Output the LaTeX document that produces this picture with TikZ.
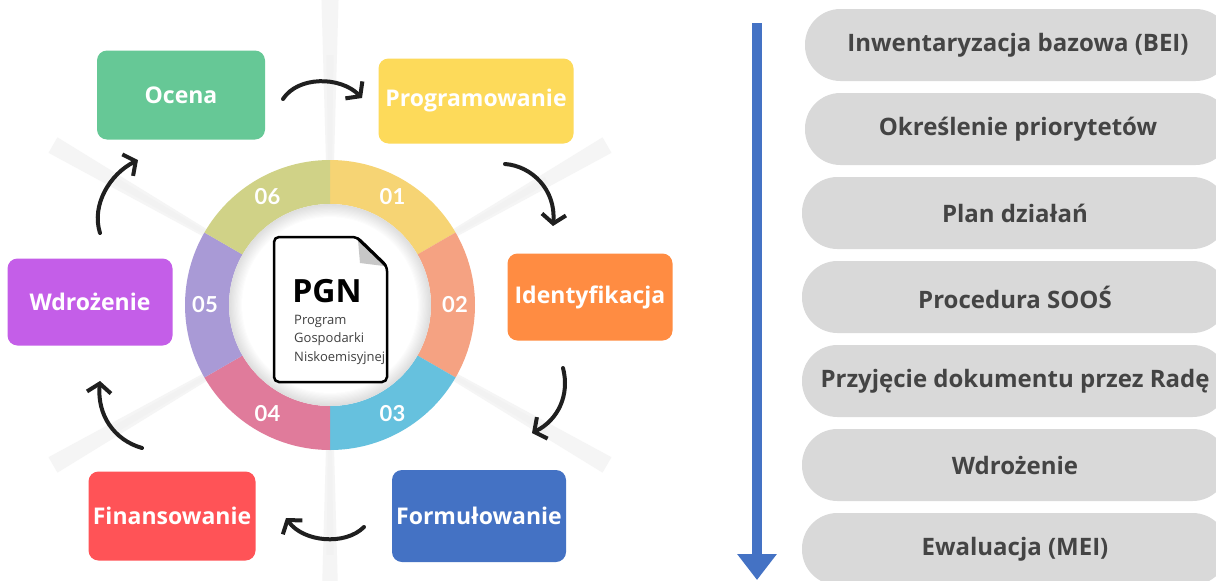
\documentclass[tikz,border=0pt]{standalone}
\usepackage{fontspec}
\setmainfont{Open Sans}
\newfontfamily\latofont{Lato}
\usetikzlibrary{arrows.meta,calc}
\definecolor{cgreen}{HTML}{66C896}
\definecolor{cyellow}{HTML}{FDDA5A}
\definecolor{corange}{HTML}{FF8C42}
\definecolor{cblue}{HTML}{4472C4}
\definecolor{cred}{HTML}{FF5357}
\definecolor{cpurple}{HTML}{C45EE8}
\definecolor{pillgray}{HTML}{D9D9D9}
\definecolor{pilltxt}{HTML}{444444}
\definecolor{rA}{HTML}{F6D474}
\definecolor{rB}{HTML}{F5A282}
\definecolor{rC}{HTML}{66C1DE}
\definecolor{rD}{HTML}{E07B9B}
\definecolor{rE}{HTML}{A99AD6}
\definecolor{rF}{HTML}{D0D287}
\begin{document}
\begin{tikzpicture}[x=1pt,y=-1pt,
  box/.style={rounded corners=10pt, inner sep=0pt, text=white, font=\fontsize{23}{27}\selectfont\bfseries},
  pill/.style={fill=pillgray, rounded corners=35.5pt, minimum width=426pt, minimum height=72pt, inner sep=0pt, text=pilltxt, font=\fontsize{24}{28}\selectfont\bfseries},
  num/.style={text=white, font=\latofont\fontsize{22}{26}\selectfont\bfseries, inner sep=0pt},
  curv/.style={line width=4pt, draw=black!88, line cap=round, -{Straight Barb[length=9pt,width=24pt]}}]
\useasboundingbox (0,0) rectangle (1216,581);
\clip (0,0) rectangle (1216,581);
\fill[white] (0,0) rectangle (1216,581);
\coordinate (C) at (330,305);
% rays
\foreach \a in {-90,-30,30,90,150,210}{
  \pgfmathsetmacro\aa{\a-1.6}\pgfmathsetmacro\ab{\a+1.6}
  \pgfmathsetmacro\ac{\a-0.8}\pgfmathsetmacro\ad{\a+0.8}
  \fill[black!4] (C) -- ($(C)+(\aa:320)$) -- ($(C)+(\ab:320)$) -- cycle;
  \fill[black!5] (C) -- ($(C)+(\ac:250)$) -- ($(C)+(\ad:250)$) -- cycle;
}
% ring
\foreach \s/\e/\c in {-90/-30/rA, -30/30/rB, 30/90/rC, 90/150/rD, 150/210/rE, 210/270/rF}{
  \fill[\c] ($(C)+(\s:145)$) arc[start angle=\s,end angle=\e,radius=145] -- ($(C)+(\e:101)$) arc[start angle=\e,end angle=\s,radius=101] -- cycle;
}
% inner circle with soft edge
\foreach \i in {0,...,10}{
  \pgfmathsetmacro\r{101-\i*1.2}\pgfmathsetmacro\g{13-\i*1.2}
  \fill[black!\g!white] (C) circle (\r);
}
\fill[white] (C) circle (88);
% numbers
\node[num] (n01) at ($(C)+(-60:125)$) {01};
\node[num] (n02) at ($(C)+(0:125)$) {02};
\node[num] (n03) at ($(C)+(60:125)$) {03};
\node[num] (n04) at ($(C)+(120:125)$) {04};
\node[num] (n05) at ($(C)+(180:125)$) {05};
\node[num] (n06) at ($(C)+(240:125)$) {06};
% document icon
\draw[line width=2.5pt, fill=white, rounded corners=5pt] (357,237) -- (274,237) -- (274,382) -- (387,382) -- (387,266) -- cycle;
\fill[black!22] (358,240) -- (360,263) -- (384,266) -- cycle;
\draw[line width=2.5pt, line cap=round] (357,238) -- (386,266);
\node[font=\fontsize{32}{36}\selectfont\bfseries, inner sep=0pt] (pgn) at (327,291) {PGN};
\node[font=\fontsize{13}{18.5}\selectfont, text=black!75, align=left, anchor=north west, inner sep=0pt] (pgnsub) at (294,315) {Program\\Gospodarki\\Niskoemisyjnej};
% boxes
\node[box, fill=cgreen, minimum width=168pt, minimum height=89pt] (ocena) at (181,95) {Ocena};
\node[box, fill=cyellow, minimum width=195pt, minimum height=85pt] (prog) at (476,101) {Programowanie};
\node[box, fill=corange, minimum width=165pt, minimum height=87pt] (ident) at (590,297) {Identyfikacja};
\node[box, fill=cblue, minimum width=174pt, minimum height=92pt] (form) at (479,516) {Formułowanie};
\node[box, fill=cred, minimum width=167pt, minimum height=89pt] (fin) at (172,516) {Finansowanie};
\node[box, fill=cpurple, minimum width=165pt, minimum height=87pt] (wdr) at (90,302) {Wdrożenie};
% curved arrows
\coordinate (a1s) at (283,99);  \coordinate (a1e) at (362,98);
\coordinate (a2s) at (505,164); \coordinate (a2e) at (553,226);
\coordinate (a3s) at (563,368); \coordinate (a3e) at (532,433);
\coordinate (a4s) at (364,527); \coordinate (a4e) at (286,518);
\coordinate (a5s) at (142,448); \coordinate (a5e) at (100,381);
\coordinate (a6s) at (100,233); \coordinate (a6e) at (138,160);
\draw[curv] (a1s) .. controls (298,76) and (340,76) .. (a1e);
\draw[curv] (a2s) .. controls (532,166) and (556,190) .. (a2e);
\draw[curv] (a3s) .. controls (570,395) and (558,420) .. (a3e);
\draw[curv] (a4s) .. controls (345,546) and (303,542) .. (a4e);
\draw[curv] (a5s) .. controls (114,440) and (97,415) .. (a5e);
\draw[curv] (a6s) .. controls (91,205) and (110,174) .. (a6e);
% timeline arrow
\coordinate (bt) at (757,23); \coordinate (bb) at (757,580);
\draw[line width=9.5pt, draw=cblue, -{Triangle[length=26pt,width=38pt]}] (bt) -- (bb);
% pills
\node[pill] (p1) at (1018,45) {Inwentaryzacja bazowa (BEI)};
\node[pill] (p2) at (1018,129) {Określenie priorytetów};
\node[pill] (p3) at (1015,213) {Plan działań};
\node[pill] (p4) at (1015,297) {Procedura SOOŚ};
\node[pill] (p5) at (1015,381) {Przyjęcie dokumentu przez Radę};
\node[pill] (p6) at (1015,465) {Wdrożenie};
\node[pill] (p7) at (1015,549) {Ewaluacja (MEI)};
\end{tikzpicture}
\end{document}
